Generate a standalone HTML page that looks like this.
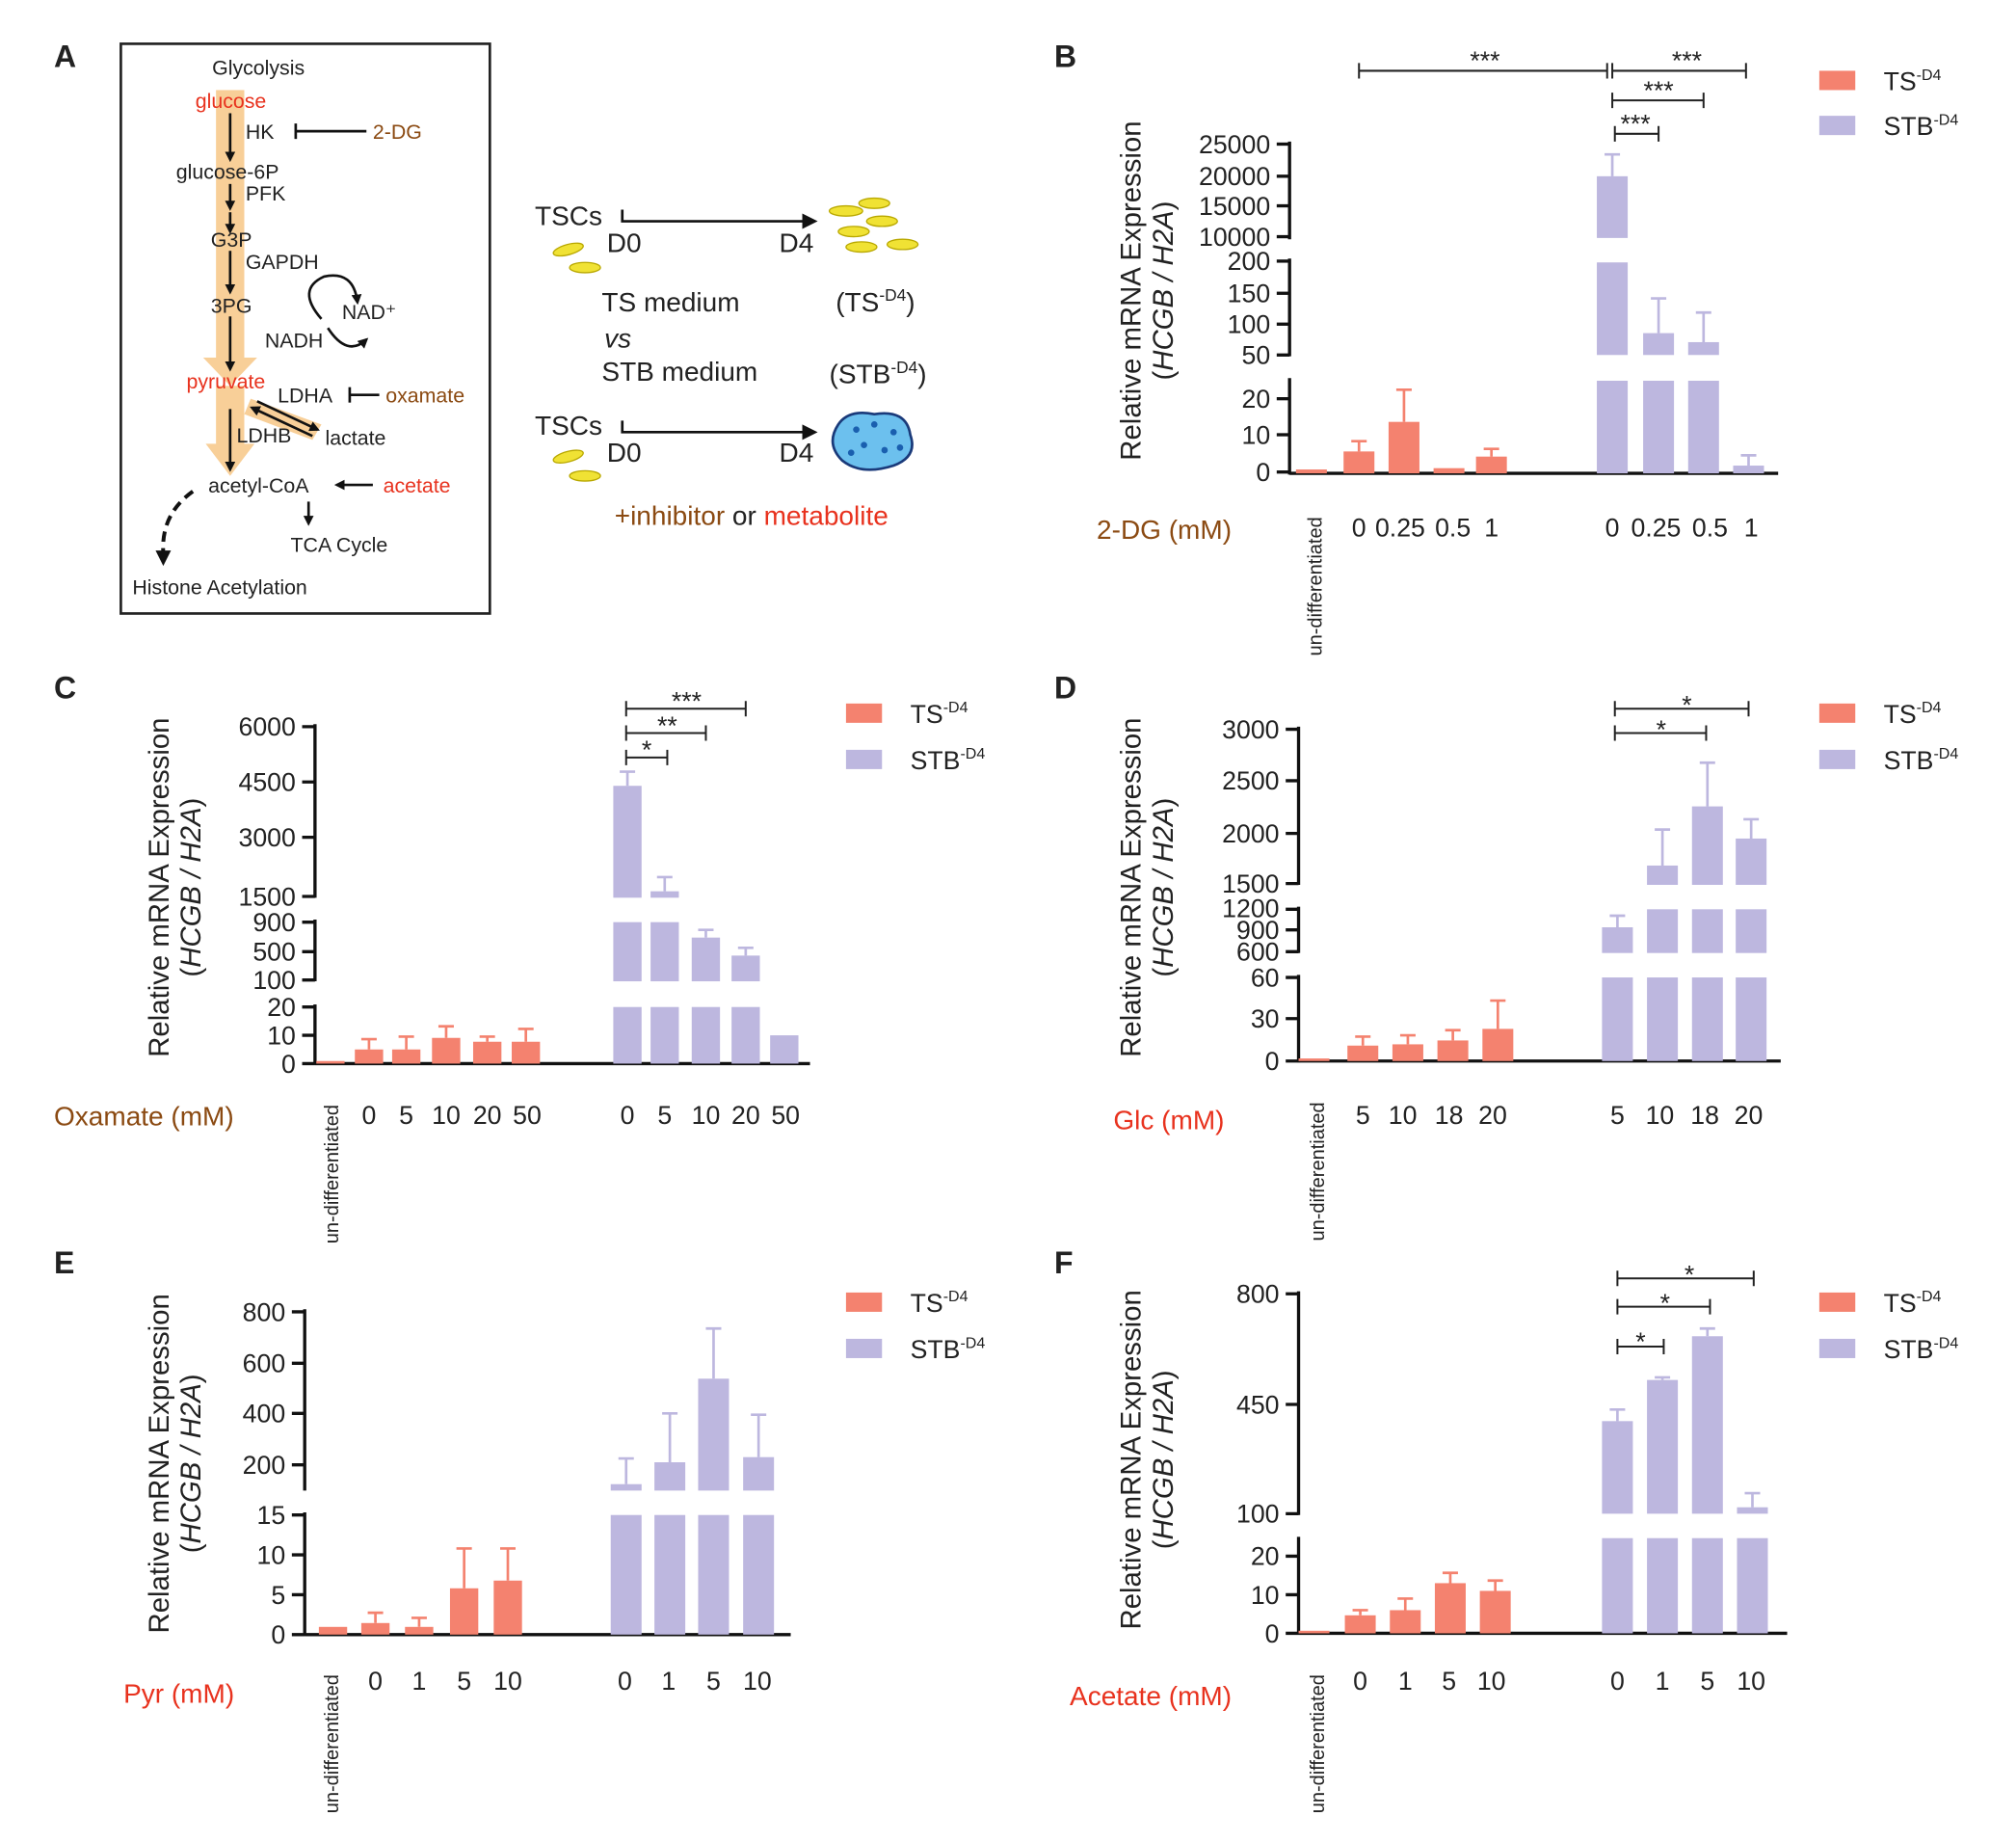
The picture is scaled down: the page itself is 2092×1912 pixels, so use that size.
<!DOCTYPE html>
<html><head><meta charset="utf-8"><style>
html,body{margin:0;padding:0;background:#fff}
svg{display:block}
text{font-family:"Liberation Sans",Arial,sans-serif;fill:#222}
.tk{font-size:20px;text-anchor:end}
.xl{font-size:20px;text-anchor:middle}
.yl{font-size:22px;text-anchor:middle}
.P{font-size:24px;font-weight:bold}
.ts{fill:#f4826f}.stb{fill:#bdb7df}
.ax{stroke:#111;stroke-width:2.5;fill:none}
.er1{stroke:#f4826f;stroke-width:2;fill:none}
.er2{stroke:#bdb7df;stroke-width:2;fill:none}
.sg{stroke:#222;stroke-width:1.5;fill:none}
.st{font-size:20px;text-anchor:middle}
</style></head><body>
<svg width="2092" height="1912" viewBox="0 0 1568 1433" xmlns="http://www.w3.org/2000/svg">
<defs><marker id="ah" markerWidth="8" markerHeight="8" refX="6" refY="4" orient="auto" markerUnits="userSpaceOnUse"><path d="M0,0L8,4L0,8Z" fill="#111"/></marker></defs>
<text class="P" x="42" y="52">A</text><text class="P" x="820" y="52">B</text>
<text class="P" x="42" y="543">C</text><text class="P" x="820" y="543">D</text>
<text class="P" x="42" y="990">E</text><text class="P" x="820" y="990">F</text>

<!-- Panel A -->
<rect x="94" y="34" width="287" height="443" fill="none" stroke="#222" stroke-width="2"/>
<rect x="168" y="70" width="22" height="210" fill="#f8cf98"/>
<polygon points="158,278 200,278 179,300" fill="#f8cf98"/>
<rect x="168" y="300" width="22" height="50" fill="#f8cf98"/>
<polygon points="160,345 198,345 179,370" fill="#f8cf98"/>
<polygon points="195,310 250,330 243,342 190,322" fill="#f8cf98"/>
<g stroke="#111" stroke-width="2" fill="none">
<line x1="179" y1="88" x2="179" y2="124" marker-end="url(#ah)"/><line x1="179" y1="143" x2="179" y2="162" marker-end="url(#ah)"/>
<line x1="179" y1="165" x2="179" y2="180" marker-end="url(#ah)"/><line x1="179" y1="195" x2="179" y2="227" marker-end="url(#ah)"/>
<line x1="179" y1="246" x2="179" y2="287" marker-end="url(#ah)"/><line x1="179" y1="318" x2="179" y2="365" marker-end="url(#ah)"/>
<line x1="230" y1="102" x2="285" y2="102"/><line x1="230" y1="96" x2="230" y2="108"/>
<line x1="272" y1="307" x2="295" y2="307"/><line x1="272" y1="301" x2="272" y2="313"/>
<line x1="200" y1="312" x2="247" y2="334" marker-end="url(#ah)"/><line x1="243" y1="339" x2="196" y2="317" marker-end="url(#ah)"/>
<line x1="290" y1="377" x2="262" y2="377" marker-end="url(#ah)"/><line x1="240" y1="390" x2="240" y2="407" marker-end="url(#ah)"/>
<path d="M150,382 Q125,400 127,430" stroke-dasharray="8,5" stroke-width="3"/>
<path d="M250,248 Q230,225 252,215 Q275,210 278,235" marker-end="url(#ah)"/>
<path d="M255,255 Q270,278 285,264" marker-end="url(#ah)"/>
</g>
<polygon points="121,428 133,428 127,440" fill="#111"/>
<text x="165" y="58" font-size="16">Glycolysis</text>
<text x="152" y="84" font-size="16" style="fill:#e8321e">glucose</text>
<text x="191" y="108" font-size="16">HK</text>
<text x="290" y="108" font-size="16" style="fill:#8b4a12">2-DG</text>
<text x="137" y="139" font-size="16">glucose-6P</text>
<text x="191" y="156" font-size="16">PFK</text>
<text x="164" y="192" font-size="16">G3P</text>
<text x="191" y="209" font-size="16">GAPDH</text>
<text x="164" y="243" font-size="16">3PG</text>
<text x="266" y="248" font-size="16">NAD⁺</text>
<text x="206" y="270" font-size="16">NADH</text>
<text x="145" y="302" font-size="16" style="fill:#e8321e">pyruvate</text>
<text x="216" y="313" font-size="16">LDHA</text>
<text x="300" y="313" font-size="16" style="fill:#8b4a12">oxamate</text>
<text x="184" y="344" font-size="16">LDHB</text>
<text x="253" y="346" font-size="16">lactate</text>
<text x="162" y="383" font-size="16">acetyl-CoA</text>
<text x="298" y="383" font-size="16" style="fill:#e8321e">acetate</text>
<text x="226" y="429" font-size="16">TCA Cycle</text>
<text x="103" y="462" font-size="16">Histone Acetylation</text>

<g font-size="21">
<text x="416" y="175">TSCs</text><text x="472" y="196">D0</text><text x="606" y="196">D4</text>
<text x="468" y="242">TS medium</text><text x="650" y="242">(TS<tspan font-size="13" dy="-8">-D4</tspan><tspan dy="8">)</tspan></text>
<text x="470" y="270" font-style="italic">vs</text>
<text x="468" y="296">STB medium</text><text x="645" y="298">(STB<tspan font-size="13" dy="-8">-D4</tspan><tspan dy="8">)</tspan></text>
<text x="416" y="338">TSCs</text><text x="472" y="359">D0</text><text x="606" y="359">D4</text>
<text x="478" y="408" style="fill:#8b4a12">+inhibitor <tspan style="fill:#222">or</tspan> <tspan style="fill:#e8321e">metabolite</tspan></text>
</g>
<g stroke="#111" stroke-width="2" fill="none">
<polyline points="484,163 484,172 628,172"/><polyline points="484,327 484,336 628,336"/>
</g>
<polygon points="636,172 624,166 624,178" fill="#111"/><polygon points="636,336 624,330 624,342" fill="#111"/>
<g fill="#f0e234" stroke="#b9a800" stroke-width="1">
<ellipse cx="442" cy="194" rx="12" ry="4" transform="rotate(-15 442 194)"/><ellipse cx="455" cy="208" rx="12" ry="4"/>
<ellipse cx="442" cy="355" rx="12" ry="4" transform="rotate(-15 442 355)"/><ellipse cx="455" cy="370" rx="12" ry="4"/>
<ellipse cx="658" cy="164" rx="13" ry="4"/><ellipse cx="680" cy="158" rx="12" ry="4"/><ellipse cx="686" cy="172" rx="12" ry="4"/>
<ellipse cx="664" cy="180" rx="12" ry="4"/><ellipse cx="670" cy="192" rx="12" ry="4"/><ellipse cx="702" cy="190" rx="12" ry="4"/>
</g>
<path d="M652,330 Q660,318 680,322 Q705,318 708,338 Q714,355 695,362 Q670,370 655,358 Q642,345 652,330Z" fill="#6cc0ee" stroke="#1a3a7a" stroke-width="2"/>
<g fill="#1a5faf"><circle cx="666" cy="334" r="2.5"/><circle cx="680" cy="330" r="2.5"/><circle cx="695" cy="336" r="2.5"/><circle cx="672" cy="346" r="2.5"/><circle cx="688" cy="350" r="2.5"/><circle cx="662" cy="352" r="2.5"/><circle cx="700" cy="348" r="2.5"/></g>

<g font-size="20">
<rect class="ts" x="1415" y="55" width="28" height="15"/><text x="1465" y="70">TS<tspan font-size="12" dy="-8">-D4</tspan></text>
<rect class="stb" x="1415" y="90" width="28" height="15"/><text x="1465" y="105">STB<tspan font-size="12" dy="-8">-D4</tspan></text>
<rect class="ts" x="658" y="547" width="28" height="15"/><text x="708" y="562">TS<tspan font-size="12" dy="-8">-D4</tspan></text>
<rect class="stb" x="658" y="583" width="28" height="15"/><text x="708" y="598">STB<tspan font-size="12" dy="-8">-D4</tspan></text>
<rect class="ts" x="1415" y="547" width="28" height="15"/><text x="1465" y="562">TS<tspan font-size="12" dy="-8">-D4</tspan></text>
<rect class="stb" x="1415" y="583" width="28" height="15"/><text x="1465" y="598">STB<tspan font-size="12" dy="-8">-D4</tspan></text>
<rect class="ts" x="658" y="1005" width="28" height="15"/><text x="708" y="1020">TS<tspan font-size="12" dy="-8">-D4</tspan></text>
<rect class="stb" x="658" y="1041" width="28" height="15"/><text x="708" y="1056">STB<tspan font-size="12" dy="-8">-D4</tspan></text>
<rect class="ts" x="1415" y="1005" width="28" height="15"/><text x="1465" y="1020">TS<tspan font-size="12" dy="-8">-D4</tspan></text>
<rect class="stb" x="1415" y="1041" width="28" height="15"/><text x="1465" y="1056">STB<tspan font-size="12" dy="-8">-D4</tspan></text>
</g>

<!-- B -->
<text class="yl" transform="translate(887,226) rotate(-90)">Relative mRNA Expression</text>
<text class="yl" transform="translate(912,226) rotate(-90)">(<tspan font-style="italic">HCGB / H2A</tspan>)</text>
<g class="ax">
<line x1="1003" y1="110" x2="1003" y2="186"/><line x1="1003" y1="201" x2="1003" y2="277"/><line x1="1003" y1="294" x2="1003" y2="369"/>
<line x1="993" y1="112" x2="1003" y2="112"/><line x1="993" y1="137" x2="1003" y2="137"/><line x1="993" y1="160" x2="1003" y2="160"/><line x1="993" y1="184" x2="1003" y2="184"/>
<line x1="993" y1="203" x2="1003" y2="203"/><line x1="993" y1="228" x2="1003" y2="228"/><line x1="993" y1="252" x2="1003" y2="252"/><line x1="993" y1="276" x2="1003" y2="276"/>
<line x1="993" y1="310" x2="1003" y2="310"/><line x1="993" y1="338" x2="1003" y2="338"/><line x1="993" y1="367" x2="1003" y2="367"/>
<line x1="1003" y1="368" x2="1383" y2="368"/>
</g>
<g class="tk"><text x="988" y="119">25000</text><text x="988" y="144">20000</text><text x="988" y="167">15000</text><text x="988" y="191">10000</text>
<text x="988" y="210">200</text><text x="988" y="235">150</text><text x="988" y="259">100</text><text x="988" y="283">50</text>
<text x="988" y="317">20</text><text x="988" y="345">10</text><text x="988" y="374">0</text></g>
<g class="ts"><rect x="1008" y="365" width="24" height="3"/><rect x="1045" y="351" width="24" height="17"/><rect x="1080" y="328" width="24" height="40"/><rect x="1115" y="364" width="24" height="4"/><rect x="1148" y="355" width="24" height="13"/></g>
<g class="er1"><path d="M1057,351V343M1051,343H1063M1092,328V303M1086,303H1098M1160,355V349M1154,349H1166"/></g>
<g class="stb"><rect x="1242" y="137" width="24" height="48"/><rect x="1242" y="204" width="24" height="72"/><rect x="1242" y="296" width="24" height="72"/>
<rect x="1278" y="259" width="24" height="17"/><rect x="1278" y="296" width="24" height="72"/>
<rect x="1313" y="266" width="24" height="10"/><rect x="1313" y="296" width="24" height="72"/>
<rect x="1348" y="362" width="24" height="6"/></g>
<g class="er2"><path d="M1254,137V120M1248,120H1260M1290,259V232M1284,232H1296M1325,266V243M1319,243H1331M1360,362V354M1354,354H1366"/></g>
<g class="sg"><path d="M1057,55H1250M1057,49V61M1250,49V61M1254,55H1358M1254,49V61M1358,49V61M1254,78H1325M1254,72V84M1325,72V84M1256,104H1290M1256,98V110M1290,98V110"/></g>
<g class="st"><text x="1155" y="54">***</text><text x="1312" y="54">***</text><text x="1290" y="77">***</text><text x="1272" y="103">***</text></g>
<text x="853" y="419" font-size="21" style="fill:#8b4a12">2-DG (mM)</text>
<g class="xl"><text x="1057" y="417">0</text><text x="1089" y="417">0.25</text><text x="1130" y="417">0.5</text><text x="1160" y="417">1</text>
<text x="1254" y="417">0</text><text x="1288" y="417">0.25</text><text x="1330" y="417">0.5</text><text x="1362" y="417">1</text></g>
<text transform="translate(1028,510) rotate(-90)" font-size="15">un-differentiated</text>

<!-- C -->
<text class="yl" transform="translate(131,690) rotate(-90)">Relative mRNA Expression</text>
<text class="yl" transform="translate(156,690) rotate(-90)">(<tspan font-style="italic">HCGB / H2A</tspan>)</text>
<g class="ax">
<line x1="245" y1="563" x2="245" y2="698"/><line x1="245" y1="715" x2="245" y2="763"/><line x1="245" y1="781" x2="245" y2="828"/>
<path d="M235,565H245M235,608H245M235,651H245M235,697H245M235,717H245M235,740H245M235,762H245M235,783H245M235,805H245M235,827H245"/>
<line x1="245" y1="827" x2="630" y2="827"/>
</g>
<g class="tk"><text x="230" y="572">6000</text><text x="230" y="615">4500</text><text x="230" y="658">3000</text><text x="230" y="704">1500</text>
<text x="230" y="724">900</text><text x="230" y="747">500</text><text x="230" y="769">100</text><text x="230" y="790">20</text><text x="230" y="812">10</text><text x="230" y="834">0</text></g>
<g class="ts"><rect x="246" y="825" width="22" height="2"/><rect x="276" y="816" width="22" height="11"/><rect x="305" y="816" width="22" height="11"/><rect x="336" y="807" width="22" height="20"/><rect x="368" y="810" width="22" height="17"/><rect x="398" y="810" width="22" height="17"/></g>
<g class="er1"><path d="M287,816V808M281,808H293M316,816V806M310,806H322M347,807V798M341,798H353M379,810V806M373,806H385M409,810V800M403,800H415"/></g>
<g class="stb"><rect x="477" y="611" width="22" height="87"/><rect x="477" y="717" width="22" height="46"/><rect x="477" y="783" width="22" height="44"/>
<rect x="506" y="693" width="22" height="5"/><rect x="506" y="717" width="22" height="46"/><rect x="506" y="783" width="22" height="44"/>
<rect x="538" y="729" width="22" height="34"/><rect x="538" y="783" width="22" height="44"/>
<rect x="569" y="743" width="22" height="20"/><rect x="569" y="783" width="22" height="44"/>
<rect x="599" y="805" width="22" height="22"/></g>
<g class="er2"><path d="M488,611V600M482,600H494M517,693V682M511,682H523M549,729V723M543,723H555M580,743V737M574,737H586"/></g>
<g class="sg"><path d="M487,551H580M487,545V557M580,545V557M487,570H549M487,564V576M549,564V576M487,589H519M487,583V595M519,583V595"/></g>
<g class="st"><text x="534" y="552">***</text><text x="519" y="571">**</text><text x="503" y="590">*</text></g>
<text x="42" y="875" font-size="21" style="fill:#8b4a12">Oxamate (mM)</text>
<g class="xl"><text x="287" y="874">0</text><text x="316" y="874">5</text><text x="347" y="874">10</text><text x="379" y="874">20</text><text x="410" y="874">50</text>
<text x="488" y="874">0</text><text x="517" y="874">5</text><text x="549" y="874">10</text><text x="580" y="874">20</text><text x="611" y="874">50</text></g>
<text transform="translate(263,967) rotate(-90)" font-size="15">un-differentiated</text>

<!-- D -->
<text class="yl" transform="translate(887,690) rotate(-90)">Relative mRNA Expression</text>
<text class="yl" transform="translate(912,690) rotate(-90)">(<tspan font-style="italic">HCGB / H2A</tspan>)</text>
<g class="ax">
<line x1="1010" y1="565" x2="1010" y2="688"/><line x1="1010" y1="705" x2="1010" y2="741"/><line x1="1010" y1="758" x2="1010" y2="826"/>
<path d="M1000,567H1010M1000,607H1010M1000,648H1010M1000,687H1010M1000,707H1010M1000,723H1010M1000,740H1010M1000,760H1010M1000,792H1010M1000,825H1010"/>
<line x1="1010" y1="825" x2="1385" y2="825"/>
</g>
<g class="tk"><text x="995" y="574">3000</text><text x="995" y="614">2500</text><text x="995" y="655">2000</text><text x="995" y="694">1500</text>
<text x="995" y="713">1200</text><text x="995" y="730">900</text><text x="995" y="747">600</text><text x="995" y="767">60</text><text x="995" y="799">30</text><text x="995" y="832">0</text></g>
<g class="ts"><rect x="1010" y="823" width="24" height="2"/><rect x="1048" y="813" width="24" height="12"/><rect x="1083" y="812" width="24" height="13"/><rect x="1118" y="809" width="24" height="16"/><rect x="1153" y="800" width="24" height="25"/></g>
<g class="er1"><path d="M1060,813V806M1054,806H1066M1095,812V805M1089,805H1101M1130,809V801M1124,801H1136M1165,800V778M1159,778H1171"/></g>
<g class="stb"><rect x="1246" y="721" width="24" height="20"/><rect x="1246" y="760" width="24" height="65"/>
<rect x="1281" y="673" width="24" height="15"/><rect x="1281" y="707" width="24" height="34"/><rect x="1281" y="760" width="24" height="65"/>
<rect x="1316" y="627" width="24" height="61"/><rect x="1316" y="707" width="24" height="34"/><rect x="1316" y="760" width="24" height="65"/>
<rect x="1350" y="652" width="24" height="36"/><rect x="1350" y="707" width="24" height="34"/><rect x="1350" y="760" width="24" height="65"/></g>
<g class="er2"><path d="M1258,721V712M1252,712H1264M1293,673V645M1287,645H1299M1328,627V593M1322,593H1334M1362,652V637M1356,637H1368"/></g>
<g class="sg"><path d="M1256,551H1360M1256,545V557M1360,545V557M1256,570H1327M1256,564V576M1327,564V576"/></g>
<g class="st"><text x="1312" y="555">*</text><text x="1292" y="574">*</text></g>
<text x="866" y="878" font-size="21" style="fill:#e8321e">Glc (mM)</text>
<g class="xl"><text x="1060" y="874">5</text><text x="1091" y="874">10</text><text x="1127" y="874">18</text><text x="1161" y="874">20</text>
<text x="1258" y="874">5</text><text x="1291" y="874">10</text><text x="1326" y="874">18</text><text x="1360" y="874">20</text></g>
<text transform="translate(1030,965) rotate(-90)" font-size="15">un-differentiated</text>

<!-- E -->
<text class="yl" transform="translate(131,1138) rotate(-90)">Relative mRNA Expression</text>
<text class="yl" transform="translate(156,1138) rotate(-90)">(<tspan font-style="italic">HCGB / H2A</tspan>)</text>
<g class="ax">
<line x1="237" y1="1018" x2="237" y2="1159"/><line x1="237" y1="1176" x2="237" y2="1272"/>
<path d="M227,1020H237M227,1060H237M227,1099H237M227,1139H237M227,1178H237M227,1209H237M227,1240H237M227,1271H237"/>
<line x1="237" y1="1271" x2="615" y2="1271"/>
</g>
<g class="tk"><text x="222" y="1027">800</text><text x="222" y="1067">600</text><text x="222" y="1106">400</text><text x="222" y="1146">200</text>
<text x="222" y="1185">15</text><text x="222" y="1216">10</text><text x="222" y="1247">5</text><text x="222" y="1278">0</text></g>
<g class="ts"><rect x="248" y="1265" width="22" height="6"/><rect x="281" y="1262" width="22" height="9"/><rect x="315" y="1265" width="22" height="6"/><rect x="350" y="1235" width="22" height="36"/><rect x="384" y="1229" width="22" height="42"/></g>
<g class="er1"><path d="M292,1262V1254M286,1254H298M326,1265V1258M320,1258H332M361,1235V1204M355,1204H367M395,1229V1204M389,1204H401"/></g>
<g class="stb"><rect x="475" y="1154" width="24" height="5"/><rect x="475" y="1178" width="24" height="93"/>
<rect x="509" y="1137" width="24" height="22"/><rect x="509" y="1178" width="24" height="93"/>
<rect x="543" y="1072" width="24" height="87"/><rect x="543" y="1178" width="24" height="93"/>
<rect x="578" y="1133" width="24" height="26"/><rect x="578" y="1178" width="24" height="93"/></g>
<g class="er2"><path d="M487,1154V1134M481,1134H493M521,1137V1099M515,1099H527M555,1072V1033M549,1033H561M590,1133V1100M584,1100H596"/></g>
<text x="96" y="1324" font-size="21" style="fill:#e8321e">Pyr (mM)</text>
<g class="xl"><text x="292" y="1314">0</text><text x="326" y="1314">1</text><text x="361" y="1314">5</text><text x="395" y="1314">10</text>
<text x="486" y="1314">0</text><text x="520" y="1314">1</text><text x="555" y="1314">5</text><text x="589" y="1314">10</text></g>
<text transform="translate(263,1410) rotate(-90)" font-size="15">un-differentiated</text>

<!-- F -->
<text class="yl" transform="translate(887,1135) rotate(-90)">Relative mRNA Expression</text>
<text class="yl" transform="translate(912,1135) rotate(-90)">(<tspan font-style="italic">HCGB / H2A</tspan>)</text>
<g class="ax">
<line x1="1010" y1="1004" x2="1010" y2="1178"/><line x1="1010" y1="1195" x2="1010" y2="1271"/>
<path d="M1000,1006H1010M1000,1092H1010M1000,1177H1010M1000,1210H1010M1000,1240H1010M1000,1270H1010"/>
<line x1="1010" y1="1270" x2="1390" y2="1270"/>
</g>
<g class="tk"><text x="995" y="1013">800</text><text x="995" y="1099">450</text><text x="995" y="1184">100</text>
<text x="995" y="1217">20</text><text x="995" y="1247">10</text><text x="995" y="1277">0</text></g>
<g class="ts"><rect x="1010" y="1268" width="24" height="2"/><rect x="1046" y="1256" width="24" height="14"/><rect x="1081" y="1252" width="24" height="18"/><rect x="1116" y="1231" width="24" height="39"/><rect x="1151" y="1237" width="24" height="33"/></g>
<g class="er1"><path d="M1058,1256V1252M1052,1252H1064M1093,1252V1243M1087,1243H1099M1128,1231V1223M1122,1223H1134M1163,1237V1229M1157,1229H1169"/></g>
<g class="stb"><rect x="1246" y="1105" width="24" height="72"/><rect x="1246" y="1196" width="24" height="74"/>
<rect x="1281" y="1073" width="24" height="104"/><rect x="1281" y="1196" width="24" height="74"/>
<rect x="1316" y="1039" width="24" height="138"/><rect x="1316" y="1196" width="24" height="74"/>
<rect x="1351" y="1172" width="24" height="5"/><rect x="1351" y="1196" width="24" height="74"/></g>
<g class="er2"><path d="M1258,1105V1096M1252,1096H1264M1293,1073V1071M1287,1071H1299M1328,1039V1033M1322,1033H1334M1363,1172V1161M1357,1161H1369"/></g>
<g class="sg"><path d="M1258,994H1364M1258,988V1000M1364,988V1000M1258,1016H1330M1258,1010V1022M1330,1010V1022M1258,1047H1294M1258,1041V1053M1294,1041V1053"/></g>
<g class="st"><text x="1314" y="998">*</text><text x="1295" y="1020">*</text><text x="1276" y="1050">*</text></g>
<text x="832" y="1326" font-size="21" style="fill:#e8321e">Acetate (mM)</text>
<g class="xl"><text x="1058" y="1314">0</text><text x="1093" y="1314">1</text><text x="1127" y="1314">5</text><text x="1160" y="1314">10</text>
<text x="1258" y="1314">0</text><text x="1293" y="1314">1</text><text x="1328" y="1314">5</text><text x="1362" y="1314">10</text></g>
<text transform="translate(1030,1410) rotate(-90)" font-size="15">un-differentiated</text>
</svg>
</body></html>
